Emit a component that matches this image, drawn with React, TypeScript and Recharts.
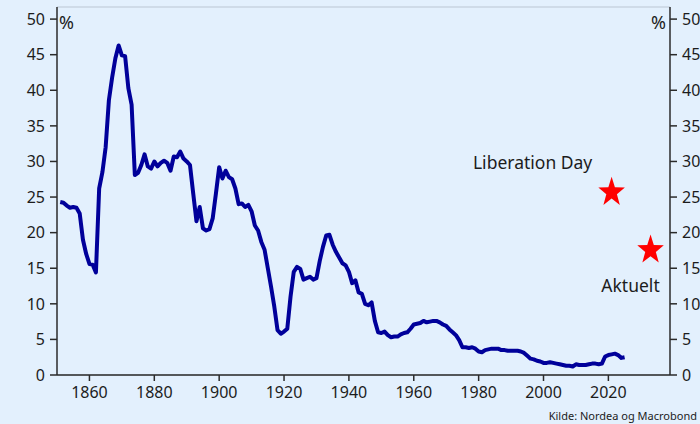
import { ComposedChart, Line, Scatter, XAxis, YAxis, CartesianGrid, LabelList } from 'recharts';

// Average US tariff rate (%), yearly from 1851
const firstYear = 1851;
const tariffRate = [
  24.3, 24.2, 23.8, 23.5, 23.6, 23.5, 22.7, 19.0, 17.0, 15.6, // 1851-1860
  15.5, 14.4, 26.2, 28.5, 32.0, 38.6, 41.8, 44.5, 46.3, 44.9, // 1861-1870
  44.8, 40.3, 38.0, 28.1, 28.4, 29.5, 31.0, 29.3, 29.0, 30.0, // 1871-1880
  29.3, 29.8, 30.1, 29.8, 28.7, 30.7, 30.6, 31.4, 30.4, 30.0, // 1881-1890
  29.5, 25.5, 21.6, 23.6, 20.6, 20.3, 20.5, 22.0, 25.5, 29.2, // 1891-1900
  27.6, 28.7, 27.8, 27.5, 26.2, 24.0, 24.1, 23.6, 23.9, 23.0, // 1901-1910
  21.0, 20.3, 18.7, 17.6, 15.0, 12.4, 9.6, 6.3, 5.8, 6.1, // 1911-1920
  6.5, 11.0, 14.5, 15.2, 14.9, 13.4, 13.6, 13.8, 13.4, 13.6, // 1921-1930
  16.0, 18.0, 19.6, 19.7, 18.3, 17.3, 16.5, 15.7, 15.4, 14.5, // 1931-1940
  12.9, 13.3, 11.6, 11.4, 10.0, 9.8, 10.2, 7.6, 6.0, 5.9, // 1941-1950
  6.1, 5.6, 5.3, 5.4, 5.4, 5.7, 5.9, 6.0, 6.5, 7.1, // 1951-1960
  7.2, 7.3, 7.6, 7.4, 7.5, 7.6, 7.6, 7.4, 7.1, 6.9, // 1961-1970
  6.4, 6.0, 5.6, 4.9, 3.9, 3.9, 3.8, 3.9, 3.7, 3.3, // 1971-1980
  3.2, 3.5, 3.6, 3.7, 3.7, 3.7, 3.5, 3.5, 3.4, 3.4, // 1981-1990
  3.4, 3.4, 3.3, 3.1, 2.7, 2.3, 2.2, 2.0, 1.9, 1.7, // 1991-2000
  1.7, 1.8, 1.7, 1.6, 1.5, 1.4, 1.3, 1.3, 1.2, 1.5, // 2001-2010
  1.4, 1.4, 1.4, 1.5, 1.6, 1.6, 1.5, 1.6, 2.6, 2.8, // 2011-2020
  2.9, 3.0, 2.8, 2.4, 2.5, // 2021-2025
];

const markerYears = [2021, 2033];
const markerValues = [25.8, 17.7];
const markerLabels = ['Liberation Day', 'Aktuelt'];

const yTicks = [0, 5, 10, 15, 20, 25, 30, 35, 40, 45, 50];
const xTicks = [1860, 1880, 1900, 1920, 1940, 1960, 1980, 2000, 2020];

const lineData = tariffRate.map((v, i) => ({ year: firstYear + i, value: v }));
const markerData = markerYears.map((y, i) => ({ year: y, value: markerValues[i], label: markerLabels[i] }));

const FONT = '"Noto Sans", "Open Sans", sans-serif';
const BG = '#e3f0fd';
const INK = '#1c1c1c';

function StarShape(props: any) {
  const { cx, cy } = props;
  const outer = 15.5;
  const inner = 6.2;
  const pts: string[] = [];
  for (let i = 0; i < 10; i++) {
    const r = i % 2 === 0 ? outer : inner;
    const a = -Math.PI / 2 + (i * Math.PI) / 5;
    pts.push(`${cx + r * 0.9 * Math.cos(a)},${cy + r * Math.sin(a) + 1}`);
  }
  return <polygon points={pts.join(' ')} fill="#ff0000" />;
}

// label offsets relative to each star
function MarkerLabel(props: any) {
  const { x, y, width, height, value, index } = props;
  const cx = x + width / 2;
  const cy = y + height / 2;
  const dx = index === 0 ? -79 : -20;
  const dy = index === 0 ? -29 : 36;
  return (
    <text x={cx + dx} y={cy + dy} textAnchor="middle" dominantBaseline="central" fontSize={17.5} fontFamily={FONT} fill={INK}>
      {value}
    </text>
  );
}

export default function App() {
  return (
    <div style={{ position: 'absolute', left: 0, top: 0, width: 700, height: 424, background: BG, fontFamily: FONT }}>
      <ComposedChart width={700} height={424} margin={{ top: 7, right: 0, left: 0, bottom: 19 }}>
        <CartesianGrid vertical={false} stroke="#c8d4e0" strokeWidth={1.5} />
        <XAxis
          type="number"
          dataKey="year"
          domain={[1850, 2039]}
          ticks={xTicks}
          height={30}
          tickSize={6}
          tickMargin={6}
          stroke="#2b2b2b"
          strokeWidth={1.5}
          tick={{ fontSize: 16, fill: INK, fontFamily: FONT }}
          allowDataOverflow
        />
        <YAxis
          yAxisId="left"
          orientation="left"
          type="number"
          domain={[0, 51.7]}
          ticks={yTicks}
          width={57}
          tickSize={7}
          tickMargin={5}
          stroke="#2b2b2b"
          strokeWidth={1.5}
          tick={{ fontSize: 16, fill: INK, fontFamily: FONT }}
          allowDataOverflow
        />
        <YAxis
          yAxisId="right"
          orientation="right"
          type="number"
          domain={[0, 51.7]}
          ticks={yTicks}
          width={30}
          tickSize={7}
          tickMargin={5}
          stroke="#2b2b2b"
          strokeWidth={1.5}
          tick={{ fontSize: 16, fill: INK, fontFamily: FONT, textAnchor: 'start' }}
          allowDataOverflow
        />
        <Line
          yAxisId="left"
          data={lineData}
          dataKey="value"
          type="linear"
          stroke="#00009a"
          strokeWidth={4}
          dot={false}
          activeDot={false}
          strokeLinejoin="round"
          isAnimationActive={false}
        />
        <Scatter yAxisId="left" data={markerData} dataKey="value" shape={StarShape} isAnimationActive={false}>
          <LabelList dataKey="label" content={MarkerLabel} />
        </Scatter>
      </ComposedChart>
      <div style={{ position: 'absolute', left: 59, top: 11, fontSize: 18, color: INK, lineHeight: '22px' }}>%</div>
      <div style={{ position: 'absolute', left: 651, top: 11, fontSize: 18, color: INK, lineHeight: '22px' }}>%</div>
      <div style={{ position: 'absolute', right: 3, top: 409, fontSize: 11, color: INK, lineHeight: '14px' }}>
        Kilde: Nordea og Macrobond
      </div>
    </div>
  );
}
